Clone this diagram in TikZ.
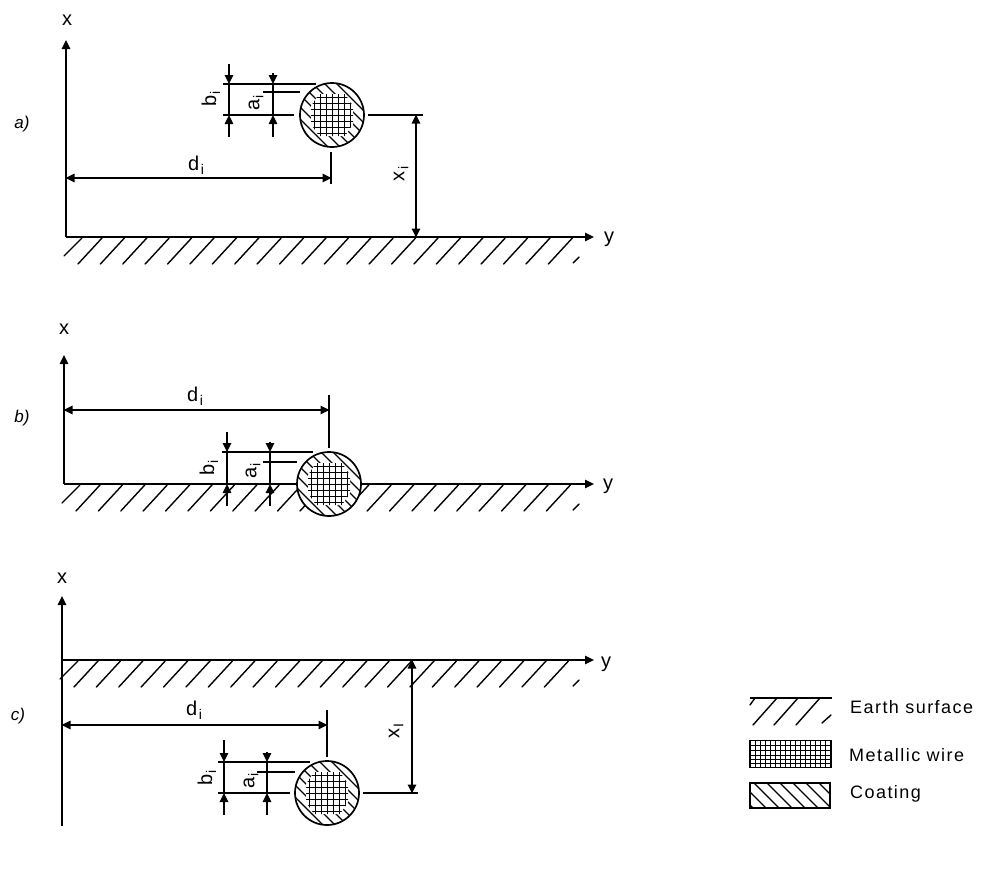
\documentclass[tikz,border=0pt]{standalone}
\usepackage{fontspec}
\setmainfont{Liberation Sans}
\newfontfamily\spaced[LetterSpace=8]{Liberation Sans}
\usetikzlibrary{arrows.meta}
\tikzset{
  x=1pt,y=-1pt,
  tip/.tip={Triangle[length=9pt,width=8.5pt]},
  ink/.style={draw=black,line width=1.5pt,line join=round},
  hatch/.style={draw=black,line width=1.4pt,line cap=round},
  fine/.style={draw=black,line width=.8pt},
  dim/.style={ink,tip-tip,shorten >=-.5pt,shorten <=-.5pt},
  lead/.style={ink,-tip},
  axis/.style={ink,-tip},
  lbl/.style={inner sep=0pt,font=\fontsize{20}{22}\selectfont},
  leg/.style={inner sep=0pt,anchor=base west,font=\fontsize{18}{20}\selectfont\spaced},
  tag/.style={inner sep=0pt,font=\fontsize{17}{20}\selectfont\itshape},
  rot/.style={lbl,rotate=90},
  wire/.style={circle,draw=black,line width=1.7pt,minimum size=64pt,inner sep=0pt},
}
\newcommand{\sbs}[1]{\kern1.5pt\raisebox{-4pt}{\fontsize{14}{14}\selectfont #1}}
\newcommand{\groundhatch}[3]{%
  \foreach \k in {0,...,21} {%
    \pgfmathsetmacro{\hx}{#2+\k*22.4}%
    \draw[hatch] (\hx,#1+1) -- +(-24,26);}%
  \draw[hatch] (#2-20,#1+1) -- +(-18,18);%
  \draw[hatch] (#3,#1+20) -- +(-6,6);%
}
\newcommand{\cable}[1]{%
  \fill[white] (#1) circle (32);
  \begin{scope}[shift={(#1)}]
    \clip (0,0) circle (32);
    \foreach \k in {-7,...,7} {\draw[hatch] (\k*12-40,-40) -- (\k*12+40,40);}
    \fill[white] (-13,-21) -- (13,-21) -- (21,-9) -- (21,9) -- (13,21) -- (-13,21) -- (-21,9) -- (-21,-9) -- cycle;
    \clip (-13,-21) -- (13,-21) -- (21,-9) -- (21,9) -- (13,21) -- (-13,21) -- (-21,9) -- (-21,-9) -- cycle;
    \foreach \k in {-18,-12,-6,0,6,12,18} {\draw[fine] (-24,\k) -- (24,\k); \draw[fine] (\k,-24) -- (\k,24);}
  \end{scope}
  \node[wire] at (#1) {};
}
\begin{document}
\begin{tikzpicture}
\useasboundingbox (0,0) rectangle (1007,873);
\fill[white] (0,0) rectangle (1007,873);

% ---------- a ----------
\node[tag] (ta) at (22,124) {a)};
\node[lbl] (xa) at (67,20) {x};
\node[lbl] (ya) at (609,239) {y};
\coordinate (oa) at (66,237);
\coordinate (axa) at (66,40);
\coordinate (aya) at (594,237);
\draw[axis] (oa) -- (axa);
\draw[axis] (oa) -- (aya);
\groundhatch{237}{102}{579}
\coordinate (ca) at (332,115);
\cable{ca}
\coordinate (a1) at (223,84); \coordinate (a2) at (316,84);
\coordinate (a3) at (263,92); \coordinate (a4) at (300,92);
\coordinate (a5) at (223,115); \coordinate (a6) at (294,115);
\draw[ink] (a1) -- (a2); \draw[ink] (a3) -- (a4); \draw[ink] (a5) -- (a6);
\coordinate (a7) at (229,84); \coordinate (a8) at (229,115);
\coordinate (a9) at (273,84); \coordinate (a10) at (273,115);
\coordinate (a11) at (229,64); \coordinate (a12) at (229,137);
\coordinate (a13) at (273,73); \coordinate (a14) at (273,137);
\draw[ink] (a7) -- (a8); \draw[ink] (a9) -- (a10);
\draw[lead] (a11) -- (a7);
\draw[lead] (a12) -- (a8);
\draw[lead] (a13) -- (a9);
\draw[lead] (a14) -- (a10);
\node[rot] (ba) at (211,99) {b\sbs{i}};
\node[rot] (aa) at (256,103) {a\sbs{i}};
\coordinate (da) at (331,178);
\draw[dim] (oa |- da) -- (da);
\coordinate (ta1) at (331,152); \coordinate (ta2) at (331,184);
\draw[ink] (ta1) -- (ta2);
\node[lbl] (dla) at (196,165) {d\sbs{i}};
\coordinate (xa1) at (368,115); \coordinate (xa2) at (423,115);
\draw[ink] (xa1) -- (xa2);
\coordinate (xa3) at (416,115); \coordinate (xa4) at (416,237);
\draw[dim] (xa3) -- (xa4);
\node[rot] (xla) at (401,174) {x\sbs{i}};

% ---------- b ----------
\node[tag] (tb) at (22,418) {b)};
\node[lbl] (xb) at (64,329) {x};
\node[lbl] (yb) at (608,486) {y};
\coordinate (ob) at (64,484);
\coordinate (axb) at (64,355);
\coordinate (ayb) at (594,484);
\draw[axis] (ob) -- (axb);
\draw[axis] (ob) -- (ayb);
\groundhatch{484}{100}{579}
\coordinate (cb) at (329,484);
\cable{cb}
\coordinate (b1) at (222,452); \coordinate (b2) at (313,452);
\coordinate (b3) at (263,462); \coordinate (b4) at (297,462);
\draw[ink] (b1) -- (b2); \draw[ink] (b3) -- (b4);
\coordinate (b7) at (227,452); \coordinate (b8) at (227,484);
\coordinate (b9) at (270,452); \coordinate (b10) at (270,484);
\coordinate (b11) at (227,432); \coordinate (b12) at (227,506);
\coordinate (b13) at (270,442); \coordinate (b14) at (270,506);
\draw[ink] (b7) -- (b8); \draw[ink] (b9) -- (b10);
\draw[lead] (b11) -- (b7);
\draw[lead] (b12) -- (b8);
\draw[lead] (b13) -- (b9);
\draw[lead] (b14) -- (b10);
\node[rot] (bb) at (209,468) {b\sbs{i}};
\node[rot] (ab) at (253,471) {a\sbs{i}};
\coordinate (db) at (329,410);
\draw[dim] (ob |- db) -- (db);
\coordinate (tb1) at (329,395); \coordinate (tb2) at (329,448);
\draw[ink] (tb1) -- (tb2);
\node[lbl] (dlb) at (195,396) {d\sbs{i}};

% ---------- c ----------
\node[tag] (tc) at (18,716) {c)};
\node[lbl] (xc) at (62,578) {x};
\node[lbl] (yc) at (606,664) {y};
\coordinate (oc) at (62,826);
\coordinate (axc) at (62,596);
\coordinate (gc) at (62,660);
\coordinate (ayc) at (594,660);
\draw[axis] (oc) -- (axc);
\draw[axis] (gc) -- (ayc);
\groundhatch{660}{98}{579}
\coordinate (cc) at (327,793);
\cable{cc}
\coordinate (c1) at (218,762); \coordinate (c2) at (310,762);
\coordinate (c3) at (257,772); \coordinate (c4) at (295,772);
\coordinate (c5) at (218,793); \coordinate (c6) at (290,793);
\draw[ink] (c1) -- (c2); \draw[ink] (c3) -- (c4); \draw[ink] (c5) -- (c6);
\coordinate (c7) at (224,762); \coordinate (c8) at (224,793);
\coordinate (c9) at (267,762); \coordinate (c10) at (267,793);
\coordinate (c11) at (224,740); \coordinate (c12) at (224,815);
\coordinate (c13) at (267,752); \coordinate (c14) at (267,815);
\draw[ink] (c7) -- (c8); \draw[ink] (c9) -- (c10);
\draw[lead] (c11) -- (c7);
\draw[lead] (c12) -- (c8);
\draw[lead] (c13) -- (c9);
\draw[lead] (c14) -- (c10);
\node[rot] (bc) at (207,778) {b\sbs{i}};
\node[rot] (ac) at (251,781) {a\sbs{i}};
\coordinate (dc) at (327,725);
\draw[dim] (oc |- dc) -- (dc);
\coordinate (tc1) at (327,710); \coordinate (tc2) at (327,757);
\draw[ink] (tc1) -- (tc2);
\node[lbl] (dlc) at (194,710) {d\sbs{i}};
\coordinate (xc1) at (363,793); \coordinate (xc2) at (418,793);
\draw[ink] (xc1) -- (xc2);
\coordinate (xc3) at (412,660); \coordinate (xc4) at (412,793);
\draw[dim] (xc3) -- (xc4);
\node[rot] (xlc) at (396,731) {x\sbs{I}};

% ---------- legend ----------
\coordinate (e1) at (750,698); \coordinate (e2) at (832,698);
\draw[ink] (e1) -- (e2);
\draw[hatch] (755,698) -- (750,705);
\foreach \hx in {777,798,820} {\draw[hatch] (\hx,698) -- +(-24,27);}
\draw[hatch] (831,715) -- (822,723);
\node[leg] (l1) at (850,713) {Earth surface};

\node[draw=black,line width=1.4pt,minimum width=81pt,minimum height=27pt,inner sep=0pt] (l2) at (790.5,754) {};
\foreach \k in {745,750,755,759,763} {\draw[fine] (l2.west |- 0,\k) -- (l2.east |- 0,\k);}
\foreach \k in {755,760,...,828} {\draw[fine] (\k,741) -- (\k,767);}
\node[leg] (l2t) at (849,761) {Metallic wire};

\node[draw=black,line width=1.4pt,minimum width=80pt,minimum height=25pt,inner sep=0pt] (l3) at (790,795.5) {};
\begin{scope}
\clip (l3.south west) rectangle (l3.north east);
\foreach \k in {0,...,9} {\draw[hatch] (725+\k*13,780) -- +(30,30);}
\end{scope}
\node[leg] (l3t) at (850,798) {Coating};
\end{tikzpicture}
\end{document}
